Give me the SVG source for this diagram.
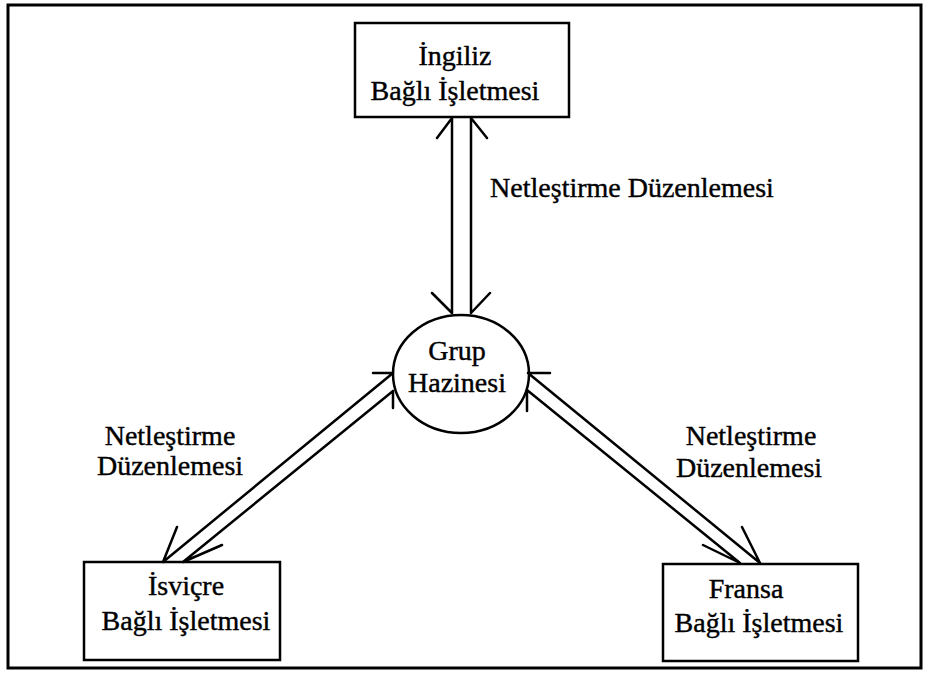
<svg xmlns="http://www.w3.org/2000/svg" width="928" height="681" viewBox="0 0 928 681">
<style>
.t{font-size:28px;fill:#000;stroke:#000;stroke-width:0.4;text-anchor:middle}
.b{fill:none;stroke:#000;stroke-width:2.5}
.c{fill:none;stroke:#000;stroke-width:2.5;stroke-linecap:round}
</style>
<rect width="928" height="681" fill="#fff"/>
<rect id="frame" x="8" y="5" width="913" height="663" fill="none" stroke="#000" stroke-width="3"/>
<g id="connectors">
<path class="c" d="M452 118V313M437 138L452 118M432 293L452 313"/>
<path class="c" d="M471 118V313M487 138L471 118M490 293L471 313"/>
<path class="c" d="M163 562L393 373M373 373H393M177 527L163 562"/>
<path class="c" d="M183 562L393 391M393 408V391M222 545L183 562"/>
<path class="c" d="M760 563L528 373M550 373H528M742 527L760 563"/>
<path class="c" d="M740 563L527 390M527 411V390M703 545L740 563"/>
</g>
<g font-family="'Liberation Serif', 'DejaVu Serif', serif">
<g id="ingiliz">
<rect class="b" x="355" y="23" width="214" height="94"/>
<text class="t" x="455" y="65">İngiliz</text>
<text class="t" x="455" y="100">Bağlı İşletmesi</text>
</g>
<g id="grup">
<ellipse class="b" cx="461" cy="374" rx="68" ry="59"/>
<text class="t" x="457" y="360">Grup</text>
<text class="t" x="457" y="392">Hazinesi</text>
</g>
<g id="isvicre">
<rect class="b" x="84" y="562" width="196" height="98"/>
<text class="t" x="186" y="595">İsviçre</text>
<text class="t" x="186" y="630">Bağlı İşletmesi</text>
</g>
<g id="fransa">
<rect class="b" x="663" y="564" width="195" height="97"/>
<text class="t" x="746" y="598">Fransa</text>
<text class="t" x="759" y="632">Bağlı İşletmesi</text>
</g>
<g id="labels">
<text class="t" x="632" y="197">Netleştirme Düzenlemesi</text>
<text class="t" x="170" y="445">Netleştirme</text>
<text class="t" x="170" y="475">Düzenlemesi</text>
<text class="t" x="751" y="445">Netleştirme</text>
<text class="t" x="749" y="477">Düzenlemesi</text>
</g>
</g>
</svg>
